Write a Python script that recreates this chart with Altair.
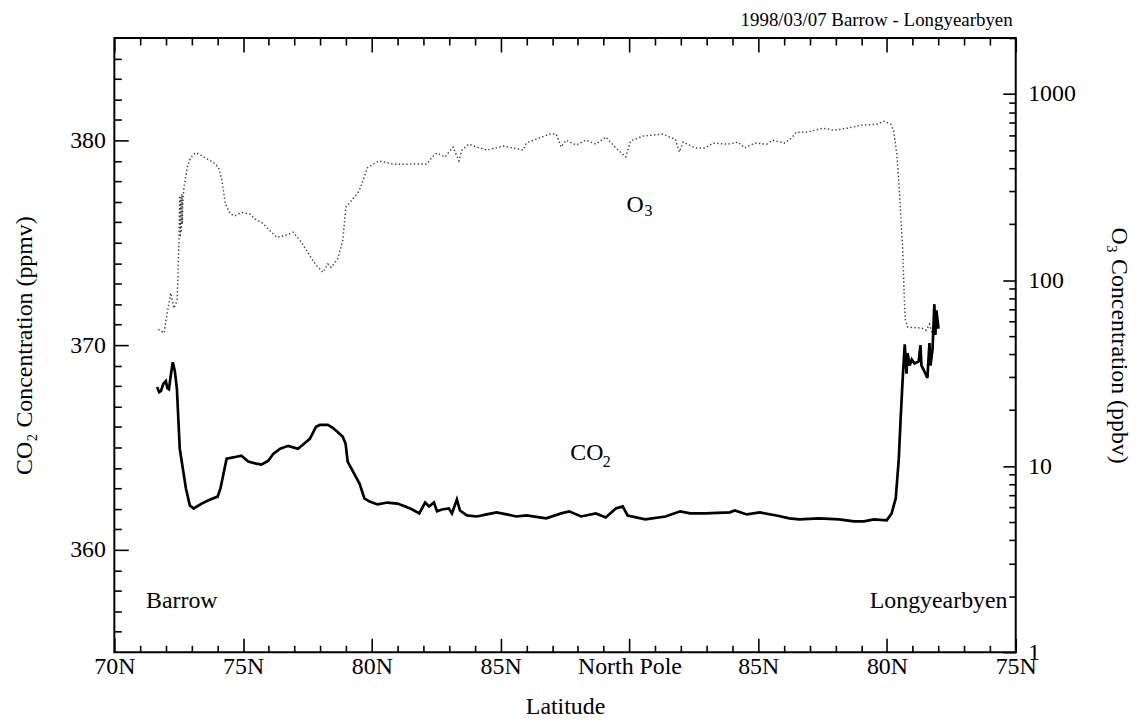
import altair as alt
import pandas as pd

# ---- data (x: degrees of flight-track latitude, 0 = 70N outbound, 20 = North Pole, 35 = 75N inbound)
co2_x = [1.66, 1.74, 1.81, 1.90, 2.00, 2.06, 2.12, 2.20, 2.27, 2.35,
         2.43, 2.54, 2.78, 2.93, 3.08, 3.39, 3.70, 4.01, 4.12, 4.36,
         4.74, 4.93, 5.20, 5.51, 5.71, 5.98, 6.17, 6.44, 6.75, 7.13,
         7.32, 7.59, 7.83, 7.98, 8.29, 8.48, 8.67, 8.87, 8.98, 9.06,
         9.29, 9.52, 9.71, 9.91, 10.22, 10.60, 10.99, 11.30, 11.57, 11.84,
         12.07, 12.22, 12.41, 12.53, 12.72, 12.99, 13.11, 13.30, 13.42, 13.69,
         14.07, 14.46, 14.84, 15.23, 15.61, 16.00, 16.77, 17.35, 17.66, 18.12,
         18.70, 19.08, 19.47, 19.74, 19.93, 20.62, 21.40, 21.97, 22.36, 22.94,
         23.90, 24.09, 24.56, 25.06, 25.71, 26.21, 26.60, 27.37, 28.14, 28.72,
         29.11, 29.49, 29.99, 30.18, 30.34, 30.46, 30.53, 30.61, 30.69, 30.76,
         30.80, 30.88, 30.96, 31.07, 31.23, 31.30, 31.34, 31.42, 31.57, 31.65,
         31.69, 31.77, 31.84, 31.88, 31.92, 32.00]
co2_ppmv = [367.95, 367.70, 367.76, 368.10, 368.24, 367.90, 367.85, 368.60, 369.16, 368.73,
            367.85, 364.94, 363.00, 362.17, 362.02, 362.26, 362.45, 362.60, 363.00, 364.45,
            364.55, 364.60, 364.31, 364.21, 364.16, 364.35, 364.69, 364.94, 365.08, 364.94,
            365.13, 365.42, 366.01, 366.10, 366.10, 365.96, 365.76, 365.52, 365.18, 364.31,
            363.77, 363.24, 362.51, 362.36, 362.22, 362.31, 362.26, 362.12, 361.97, 361.78,
            362.31, 362.12, 362.31, 361.88, 361.97, 362.02, 361.78, 362.46, 361.92, 361.68,
            361.63, 361.73, 361.83, 361.73, 361.63, 361.68, 361.54, 361.78, 361.88, 361.63,
            361.78, 361.58, 362.02, 362.12, 361.68, 361.49, 361.63, 361.88, 361.78, 361.78,
            361.83, 361.92, 361.73, 361.83, 361.68, 361.54, 361.49, 361.54, 361.49, 361.39,
            361.39, 361.49, 361.44, 361.78, 362.51, 364.45, 366.40, 368.34, 370.04, 368.60,
            369.60, 369.00, 369.30, 369.10, 369.20, 370.00, 369.00, 368.80, 368.40, 370.10,
            369.00, 369.80, 372.00, 370.50, 371.70, 370.80]

o3_x = [1.71, 1.93, 2.05, 2.19, 2.31, 2.44, 2.51, 2.54, 2.56, 2.58,
        2.60, 2.62, 2.64, 2.66, 2.70, 2.83, 2.96, 3.15, 3.28, 3.54,
        3.86, 4.05, 4.18, 4.31, 4.50, 4.69, 4.95, 5.27, 5.46, 5.72,
        5.98, 6.30, 6.62, 6.94, 7.26, 7.58, 7.84, 8.10, 8.29, 8.42,
        8.67, 8.87, 8.99, 9.25, 9.51, 9.83, 10.28, 10.86, 12.14, 12.34,
        12.53, 12.84, 13.15, 13.38, 13.50, 13.76, 14.07, 14.46, 15.11, 15.88,
        16.00, 16.50, 16.89, 17.16, 17.35, 17.54, 17.93, 18.31, 18.70, 19.08,
        19.47, 19.86, 20.05, 20.51, 21.28, 21.78, 21.94, 22.09, 22.55, 22.94,
        23.25, 23.82, 24.21, 24.48, 24.87, 25.33, 25.56, 26.02, 26.29, 26.48,
        26.91, 27.49, 27.95, 28.45, 28.99, 29.61, 29.88, 30.15, 30.26, 30.38,
        30.46, 30.53, 30.61, 30.65, 30.69, 30.72, 30.80, 31.34, 31.53, 31.65,
        31.75, 31.85, 32.00]
o3_ppbv = [54.3, 51.9, 66.4, 85.2, 70.6, 77.9, 163, 284, 170, 280,
           180, 290, 200, 260, 313, 402, 455, 484, 476, 453,
           428, 402, 341, 257, 227, 222, 231, 226, 213, 204,
           188, 170, 173, 181, 160, 136, 120, 110, 122, 117,
           130, 163, 246, 272, 302, 402, 437, 419, 421, 459,
           482, 459, 519, 437, 500, 538, 519, 500, 525, 500,
           545, 580, 609, 609, 519, 565, 532, 565, 538, 587,
           513, 459, 559, 594, 609, 572, 488, 552, 513, 513,
           545, 538, 552, 513, 545, 538, 565, 545, 580, 624,
           624, 655, 640, 655, 680, 688, 714, 688, 632, 476,
           341, 227, 150, 99.6, 68.9, 60.9, 55.9, 55.2, 53.8, 58,
           52, 60, 55]

lat_ticks = [0, 5, 10, 15, 20, 25, 30, 35]
lat_labels = ['70N', '75N', '80N', '85N', 'North Pole', '85N', '80N', '75N']
lat_minor = [v for v in range(0, 36) if v % 5]
co2_ticks = [360, 370, 380]
co2_minor = [v for v in range(356, 385) if v % 10]
o3_ticks = [1, 10, 100, 1000]
o3_minor = [m * 10 ** e for e in range(0, 4) for m in range(2, 10) if m * 10 ** e <= 2000]

# annotations (position in x / CO2 units)
main_text = ['O', 'CO']
main_x = [20.22, 18.35]
main_y = [376.84, 364.72]
sub_text = ['3', '2']
sub_x = [20.74, 19.12]
sub_y = [376.53, 364.31]
place_left = ['Barrow']
place_left_x = [1.23]
place_left_y = [357.5]
place_right = ['Longyearbyen']
place_right_x = [34.68]
place_right_y = [357.5]
head_text = ['1998/03/07 Barrow - Longyearbyen']
head_x = [34.88]
head_y = [385.9]

FONT = 'Liberation Serif'
W, H = 907, 618
FS = 24


def xs(axis):
    return alt.X('x:Q', scale=alt.Scale(domain=[0, 35], nice=False, zero=False), axis=axis)


def yc(axis):
    return alt.Y('y:Q', scale=alt.Scale(domain=[355, 385], nice=False, zero=False), axis=axis)


def yo(axis):
    return alt.Y('y:Q', scale=alt.Scale(type='log', domain=[1, 2000], nice=False), axis=axis)


def tick_axis(orient, offset, values, size):
    return alt.Axis(orient=orient, offset=offset, values=values, ticks=True, tickSize=size,
                    labels=False, domain=False, grid=False, title='')


def text_layer(xv, yv, tv, size, align):
    df = pd.DataFrame({'x': xv, 'y': yv, 't': tv})
    return alt.Chart(df).mark_text(font=FONT, fontSize=size, color='black', align=align,
                                   baseline='middle').encode(x=xs(None), y=yc(None), text='t:N')


co2_df = pd.DataFrame({'x': co2_x, 'y': co2_ppmv})
o3_df = pd.DataFrame({'x': o3_x, 'y': o3_ppbv})
carrier_c = pd.DataFrame({'x': [lat_ticks[0]], 'y': [co2_ticks[1]]})
carrier_o = pd.DataFrame({'x': [lat_ticks[0]], 'y': [o3_ticks[1]]})

label_expr = '[' + ','.join(repr(s) for s in lat_labels) + '][round(datum.value / 5)]'

co2_line = alt.Chart(co2_df).mark_line(color='black', strokeWidth=2.7).encode(
    x=xs(alt.Axis(orient='bottom', values=lat_ticks, labelExpr=label_expr, ticks=False, tickSize=0,
                  domain=False, grid=False, labelPadding=2, labelFlush=False, labelOverlap=False,
                  title='Latitude', titlePadding=17)),
    y=yc(alt.Axis(orient='left', values=co2_ticks, ticks=False, tickSize=0, domain=False, grid=False,
                  labelPadding=9, title='CO₂ Concentration (ppmv)', titlePadding=33)),
)

o3_line = alt.Chart(o3_df).mark_line(color='#444444', strokeWidth=1.5, strokeDash=[1.4, 2.4]).encode(
    x=xs(None),
    y=yo(alt.Axis(orient='right', values=o3_ticks, format='d', ticks=False, tickSize=0, domain=False,
                  grid=False, labelPadding=12, labelFlush=False, title='O₃ Concentration (ppbv)',
                  titlePadding=31)),
)

ticks_bottom_minor = alt.Chart(carrier_c).mark_point(opacity=0).encode(
    x=xs(tick_axis('top', -H, lat_minor, 7)), y=yc(tick_axis('right', -W, co2_minor, 7)))
ticks_bottom_major = alt.Chart(carrier_c).mark_point(opacity=0).encode(
    x=xs(tick_axis('top', -H, lat_ticks, 14)), y=yc(tick_axis('right', -W, co2_ticks, 14)))
ticks_top_minor = alt.Chart(carrier_o).mark_point(opacity=0).encode(
    x=xs(tick_axis('bottom', -H, lat_minor, 7)), y=yo(tick_axis('left', -W, o3_minor, 7)))
ticks_top_major = alt.Chart(carrier_o).mark_point(opacity=0).encode(
    x=xs(tick_axis('bottom', -H, lat_ticks, 14)), y=yo(tick_axis('left', -W, o3_ticks, 13)))

chart = alt.layer(
    ticks_bottom_minor, ticks_bottom_major, ticks_top_minor, ticks_top_major,
    o3_line, co2_line,
    text_layer(main_x, main_y, main_text, FS, 'center'),
    text_layer(sub_x, sub_y, sub_text, 16, 'center'),
    text_layer(place_left_x, place_left_y, place_left, FS, 'left'),
    text_layer(place_right_x, place_right_y, place_right, FS, 'right'),
    text_layer(head_x, head_y, head_text, 19, 'right'),
).resolve_scale(x='independent', y='independent').resolve_axis(
    x='independent', y='independent'
).properties(
    width=W, height=H,
    padding={'left': 107, 'top': 28, 'right': 119, 'bottom': 66},
    autosize=alt.AutoSizeParams(type='none'),
).configure_axis(
    labelFont=FONT, titleFont=FONT, labelFontSize=FS, titleFontSize=FS,
    labelColor='black', titleColor='black', tickColor='black', tickWidth=1.6,
    titleFontWeight='normal',
).configure_view(stroke='black', strokeWidth=2)

chart.save('out.html', embed_options={'renderer': 'svg', 'actions': False})
